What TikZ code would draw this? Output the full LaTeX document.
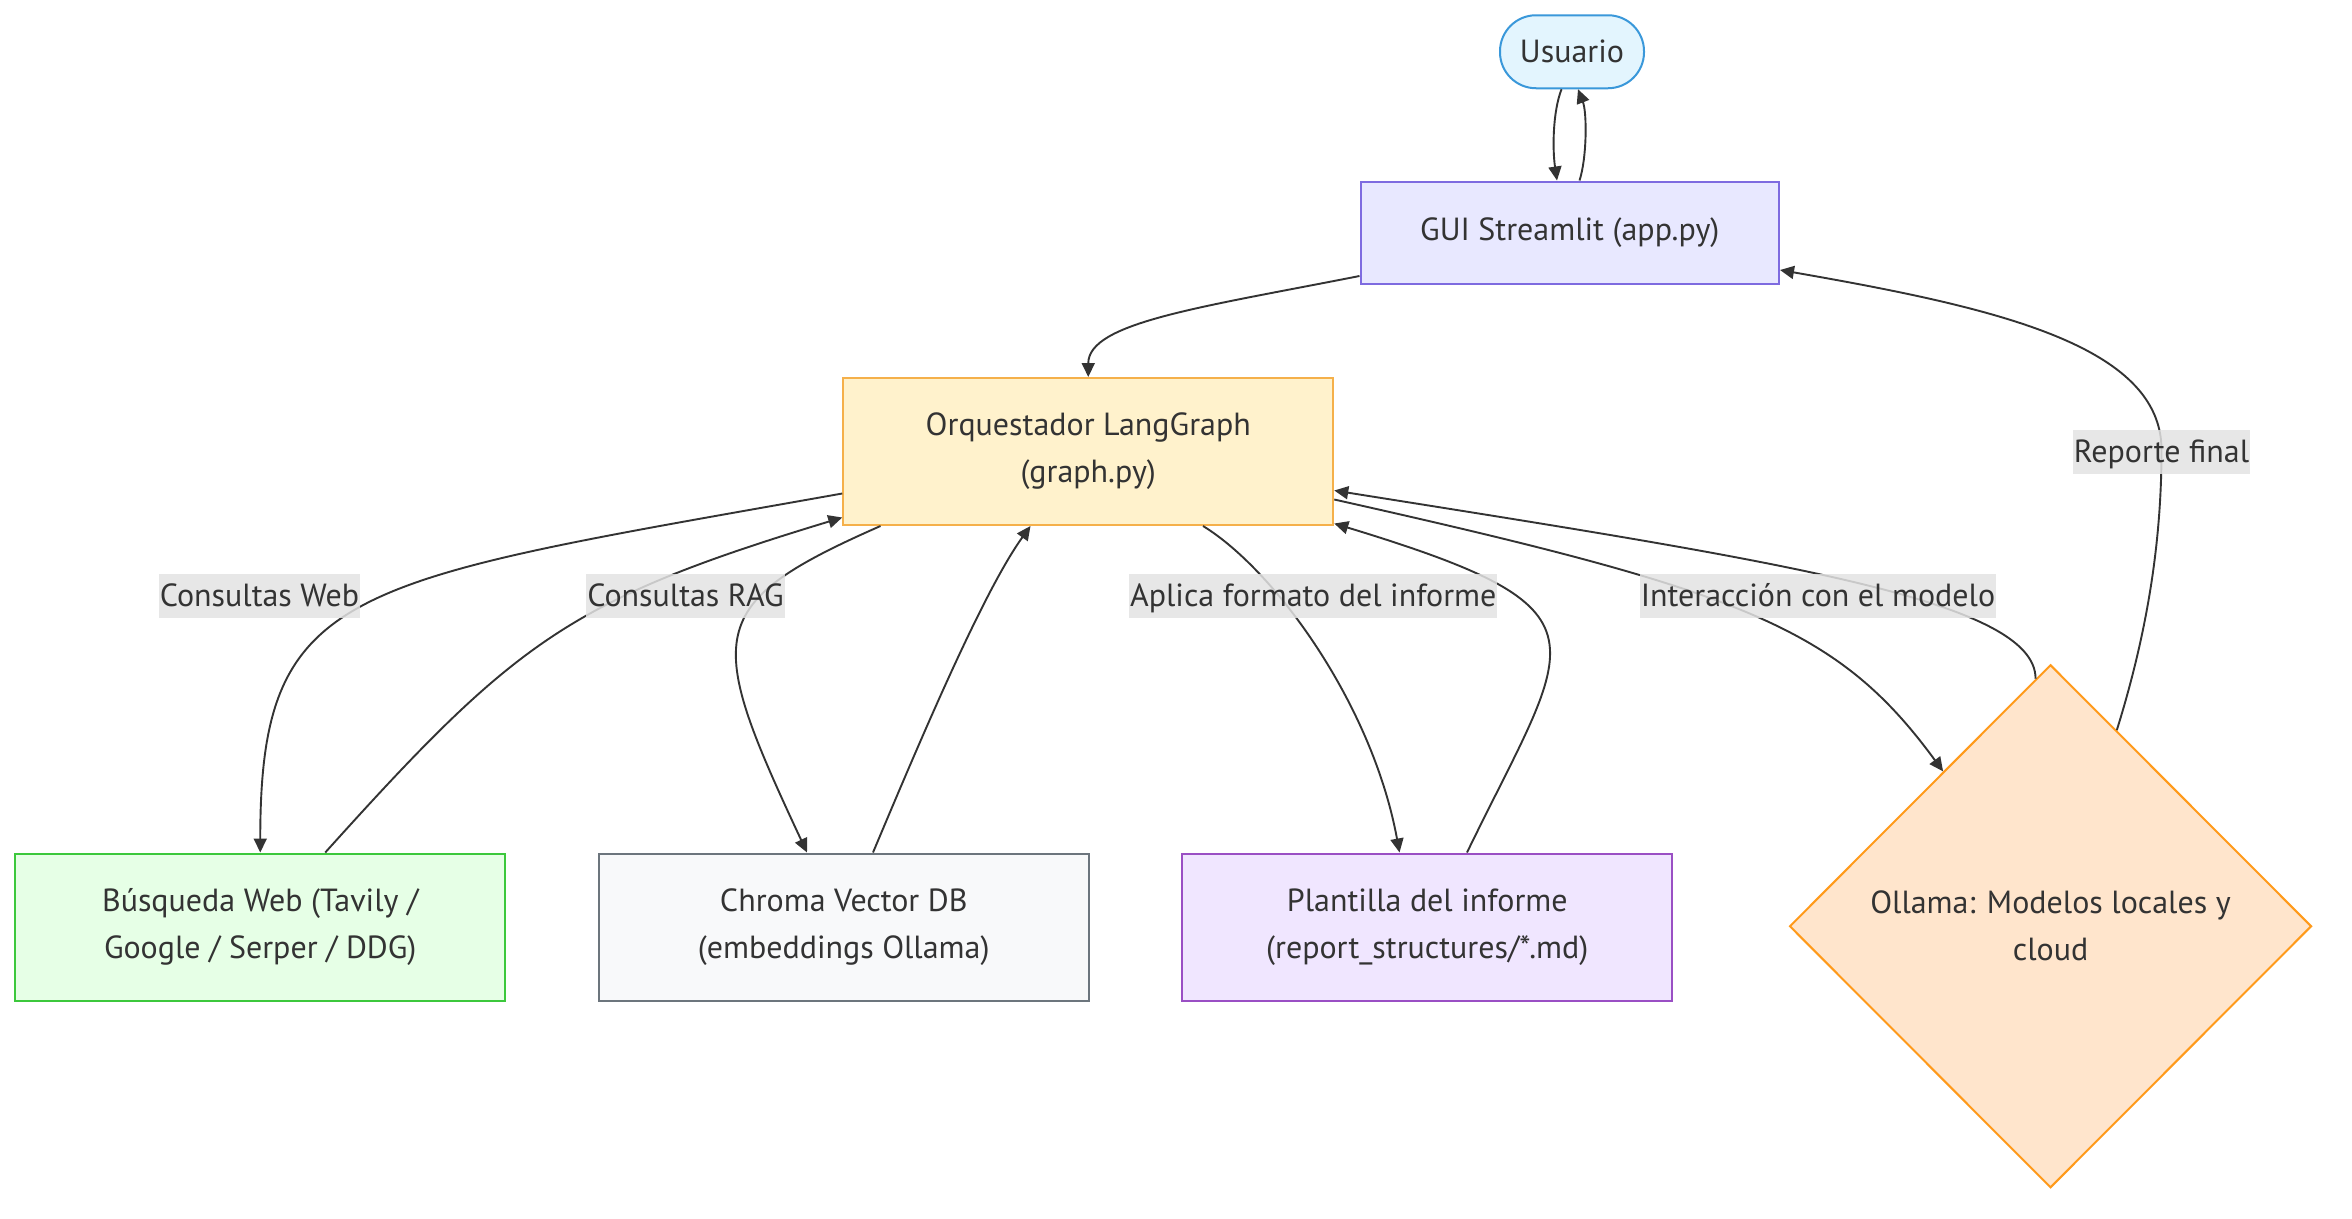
\documentclass[tikz,border=0pt]{standalone}
\usepackage{fontspec}
\setmainfont{PT Sans}
\usetikzlibrary{arrows.meta,shapes.geometric,calc}
\definecolor{txt}{HTML}{333333}
\definecolor{lblbg}{HTML}{E3E3E3}
\definecolor{usrfill}{HTML}{E3F5FE}
\definecolor{usrline}{HTML}{3A98DA}
\definecolor{guifill}{HTML}{E8E8FF}
\definecolor{guiline}{HTML}{7E6BE0}
\definecolor{orqfill}{HTML}{FFF2CC}
\definecolor{orqline}{HTML}{F5B04A}
\definecolor{busfill}{HTML}{E6FFE6}
\definecolor{busline}{HTML}{3CC83C}
\definecolor{chrfill}{HTML}{F8F9FA}
\definecolor{chrline}{HTML}{6C757D}
\definecolor{plafill}{HTML}{F0E6FF}
\definecolor{plaline}{HTML}{9A4FC4}
\definecolor{ollfill}{HTML}{FFE5CC}
\definecolor{ollline}{HTML}{FF9A1A}
\begin{document}
\begin{tikzpicture}[x=1.5pt,y=-1.5pt,
  font=\fontsize{32pt}{47pt}\selectfont, text=txt,
  box/.style={draw, line width=2pt, rectangle, inner sep=0pt,
    minimum width=490pt, minimum height=147pt, align=center},
  usrbox/.style={draw=usrline, fill=usrfill, line width=2pt, rounded corners=36pt,
    minimum width=144pt, minimum height=73pt, inner sep=0pt},
  arr/.style={draw=txt, line width=1.9pt, -{Triangle[length=14pt,width=13pt]}},
  lbl/.style={fill=lblbg, fill opacity=0.85, text opacity=1, inner xsep=1pt,
    inner ysep=0pt, text height=22.5pt, text depth=0pt, minimum height=44pt}]
\fill[white] (0,0) rectangle (1568,812);
\useasboundingbox (0,0) rectangle (1568,812);

% nodes
\node[usrbox] (usr) at (1048,34.5) {Usuario};
\node[box, draw=guiline, fill=guifill, minimum width=418.5pt, minimum height=102pt] (gui) at (1046.5,155) {GUI Streamlit (app.py)};
\node[box, draw=orqline, fill=orqfill] (orq) at (725.5,301) {Orquestador LangGraph\\(graph.py)};
\node[box, draw=busline, fill=busfill] (bus) at (173.5,618) {Búsqueda Web (Tavily /\\Google / Serper / DDG)};
\node[box, draw=chrline, fill=chrfill] (chr) at (562.5,618) {Chroma Vector DB\\(embeddings Ollama)};
\node[box, draw=plaline, fill=plafill] (pla) at (951.5,618) {Plantilla del informe\\(report\_structures/*.md)};
\node[diamond, draw=ollline, fill=ollfill, line width=2pt, aspect=1, inner sep=0pt,
  minimum width=522pt, minimum height=523pt, align=center] (oll) at (1367,617.5) {Ollama: Modelos locales y\\cloud};

% edges
\draw[arr] ([xshift=-10.5pt]usr.south) .. controls (1035,75) and (1035,100) .. ([xshift=-12.75pt]gui.north);
\draw[arr] ([xshift=9.75pt]gui.north) .. controls (1058,105) and (1058,75) .. ([xshift=6pt]usr.south);
\draw[arr] ([yshift=-43.5pt]gui.west) .. controls (800,205) and (725.5,215) .. (orq.north);
\draw[arr] ([yshift=-42pt]orq.west) .. controls (230,388) and (173.5,390) .. (bus.north);
\draw[arr] ([xshift=65pt]bus.north) .. controls (344,427) and (380,400) .. ([yshift=-66pt]orq.west);
\draw[arr] ([xshift=-207.75pt]orq.south) .. controls (468,403) and (470,423) .. ([xshift=-36.75pt]chr.north);
\draw[arr] ([xshift=29.25pt]chr.north) .. controls (612,497) and (655,395) .. ([xshift=-57.75pt]orq.south);
\draw[arr] ([xshift=114.75pt]orq.south) .. controls (850,380) and (915,470) .. ([xshift=-27.75pt]pla.north);
\draw[arr] ([xshift=39.75pt]pla.north) .. controls (1048,424) and (1080,407) .. ([yshift=-72pt]orq.east);
\draw[arr] ([yshift=-48pt]orq.east) .. controls (1162,394) and (1225,418) .. ($(oll.north)!0.41!(oll.west)$);
\draw[arr] ($(oll.north)!0.057!(oll.west)$) .. controls (1357,400) and (1185,374) .. ([yshift=-39pt]orq.east);
\draw[arr] ($(oll.north)!0.253!(oll.east)$) .. controls (1432,420) and (1441,360) .. (1441,300)
  .. controls (1441,230) and (1330,205) .. ([yshift=-37.5pt]gui.east);

% edge labels
\node[lbl] (l1) at (173,397) {Consultas Web};
\node[lbl] (l2) at (457,397) {Consultas RAG};
\node[lbl] (l3) at (875.5,397) {Aplica formato del informe};
\node[lbl] (l4) at (1212,397) {Interacción con el modelo};
\node[lbl] (l5) at (1441,301) {Reporte final};
\end{tikzpicture}
\end{document}
